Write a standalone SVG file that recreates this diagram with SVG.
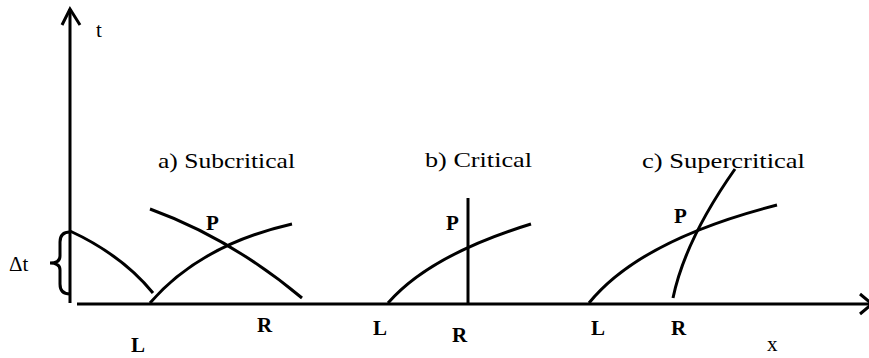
<svg xmlns="http://www.w3.org/2000/svg" width="869" height="358" viewBox="0 0 869 358">
<style>
.ln{fill:none;stroke:#000;stroke-width:3;stroke-linecap:butt;stroke-linejoin:miter}
text{font-family:'Liberation Serif','DejaVu Serif',serif;font-size:21px;fill:#000}
.b{font-weight:bold}
</style>
<rect width="869" height="358" fill="#fff"/>
<g id="axes">
<line class="ln" x1="70" y1="9" x2="70" y2="303"/>
<polyline class="ln" points="62,25 70,9 80,25"/>
<line class="ln" x1="77" y1="304" x2="871" y2="304"/>
<polyline class="ln" points="860,294 872,304 860,314"/>
<text x="96" y="37">t</text>
<text x="767" y="351">x</text>
<path class="ln" d="M70,232 Q60,232 60,242 L60,256 Q60,263 50,263 Q60,263 60,270 L60,284 Q60,294 70,294"/>
<text x="9" y="271">Δt</text>
</g>
<g id="connectors">
<path class="ln" d="M70,231 Q122,255 153,293"/>
<path class="ln" d="M150,303 Q200,245 292,224"/>
<path class="ln" d="M150,209 Q230,238 302,298"/>
<line class="ln" x1="468" y1="198" x2="468" y2="304"/>
<path class="ln" d="M388,303 Q430,255 531,224"/>
<path class="ln" d="M589,303 Q640,240 777,205"/>
<path class="ln" d="M673,298 Q685,240 735,169"/>
</g>
<g id="panel-a">
<text x="158" y="168" textLength="137" lengthAdjust="spacingAndGlyphs">a) Subcritical</text>
<text class="b" x="206" y="230">P</text>
<text class="b" x="131" y="352">L</text>
<text class="b" x="257" y="332">R</text>
</g>
<g id="panel-b">
<text x="425" y="167" textLength="107" lengthAdjust="spacingAndGlyphs">b) Critical</text>
<text class="b" x="446" y="230">P</text>
<text class="b" x="373" y="335">L</text>
<text class="b" x="452" y="342">R</text>
</g>
<g id="panel-c">
<text x="642" y="168" textLength="163" lengthAdjust="spacingAndGlyphs">c) Supercritical</text>
<text class="b" x="674" y="223">P</text>
<text class="b" x="591" y="335">L</text>
<text class="b" x="671" y="335">R</text>
</g>
</svg>
